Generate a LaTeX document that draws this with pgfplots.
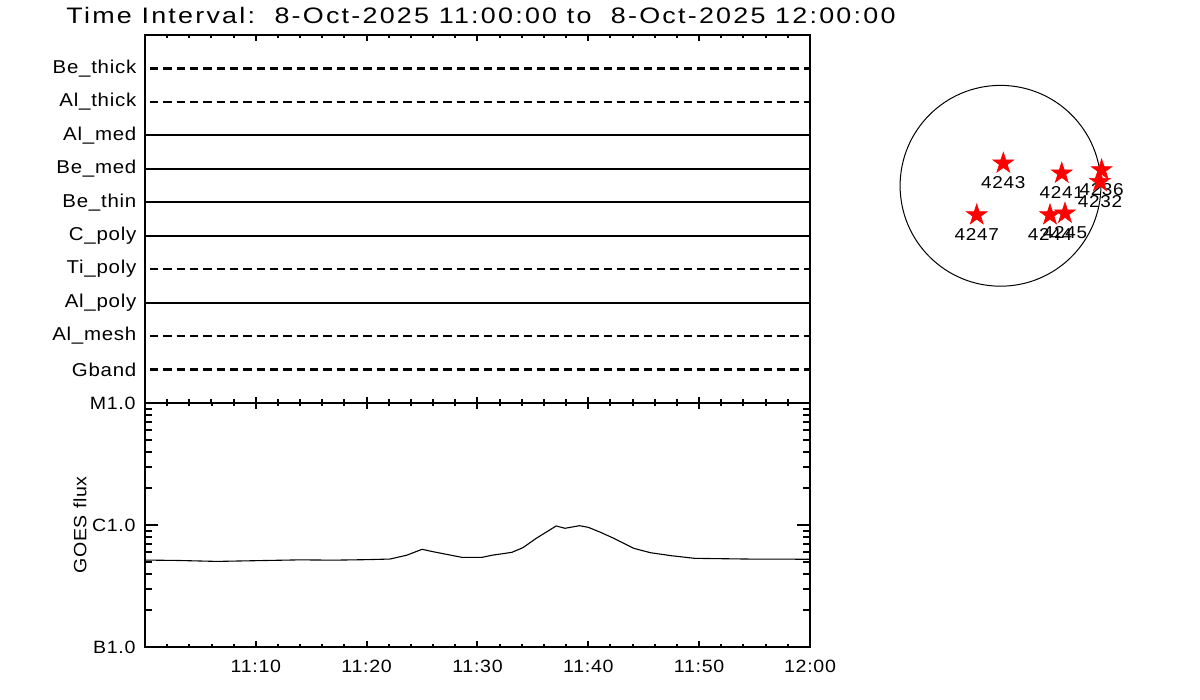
\documentclass[border=0pt]{standalone}
\usepackage{pgfplots}
\pgfplotsset{compat=1.18}
\usepackage{fontspec}
\setmainfont{Liberation Sans}
\newfontfamily\idl[FakeStretch=1.1,LetterSpace=4]{Liberation Sans}
\newfontfamily\idlt[FakeStretch=1.2,LetterSpace=10]{Liberation Sans}

\pgfdeclareplotmark{fstar}{%
  \pgfpathmoveto{\pgfpointpolar{90}{\pgfplotmarksize}}%
  \pgfpathlineto{\pgfpointpolar{126}{0.382\pgfplotmarksize}}%
  \pgfpathlineto{\pgfpointpolar{162}{\pgfplotmarksize}}%
  \pgfpathlineto{\pgfpointpolar{198}{0.382\pgfplotmarksize}}%
  \pgfpathlineto{\pgfpointpolar{234}{\pgfplotmarksize}}%
  \pgfpathlineto{\pgfpointpolar{270}{0.382\pgfplotmarksize}}%
  \pgfpathlineto{\pgfpointpolar{306}{\pgfplotmarksize}}%
  \pgfpathlineto{\pgfpointpolar{342}{0.382\pgfplotmarksize}}%
  \pgfpathlineto{\pgfpointpolar{18}{\pgfplotmarksize}}%
  \pgfpathlineto{\pgfpointpolar{54}{0.382\pgfplotmarksize}}%
  \pgfpathclose
  \pgfusepathqfillstroke
}

\pgfplotstableread{
t flux
0    5.16e-7
3    5.12e-7
6.5  5.03e-7
10   5.10e-7
14   5.18e-7
17   5.15e-7
20   5.20e-7
22.1 5.26e-7
23.6 5.65e-7
25.0 6.32e-7
26.0 6.04e-7
28.6 5.43e-7
30.4 5.43e-7
31.3 5.65e-7
33.1 5.97e-7
34.1 6.52e-7
35.3 7.78e-7
37.1 9.82e-7
37.9 9.40e-7
39.2 9.87e-7
40.0 9.57e-7
41.1 8.71e-7
42.3 7.78e-7
44.1 6.44e-7
45.6 5.93e-7
47.5 5.60e-7
49.6 5.33e-7
54.4 5.26e-7
60   5.24e-7
}\goesdata

\pgfplotstableread{
x y lab
27 216 4243
588 120 4241
971 152 4236
955 39 4232
-228 -280 4247
475 -280 4244
619 -264 4245
}\ardata

\begin{document}
\begin{tikzpicture}
% ---------- top panel: channel lines ----------
\begin{axis}[
  at={(72.5pt,148.5pt)}, anchor=south west, scale only axis,
  width=332.5pt, height=184pt,
  xmin=0, xmax=60, ymin=0, ymax=11,
  xtick={0,10,...,60}, xticklabels={}, minor x tick num=4,
  major tick length=3pt, minor tick length=1.75pt,
  ytick={1,...,10},
  yticklabels={Gband,Al\_mesh,Al\_poly,Ti\_poly,C\_poly,Be\_thin,Be\_med,Al\_med,Al\_thick,Be\_thick},
  tick style={black, line width=1pt},
  ytick style={draw=none},
  axis line style={line width=1pt},
  yticklabel style={font=\idl\fontsize{9.3}{11}\selectfont, xshift=-0.8pt},
]
\addplot[black, line width=1.1pt, dash pattern=on 4.17pt off 2.5pt, dash phase=4.17pt] coordinates {(0,10) (60,10)};
\addplot[black, line width=1.1pt, dash pattern=on 4.17pt off 2.5pt, dash phase=4.17pt] coordinates {(0,9) (60,9)};
\addplot[black, line width=1.1pt] coordinates {(0,8) (60,8)};
\addplot[black, line width=1.1pt] coordinates {(0,7) (60,7)};
\addplot[black, line width=1.1pt] coordinates {(0,6) (60,6)};
\addplot[black, line width=1.1pt] coordinates {(0,5) (60,5)};
\addplot[black, line width=1.1pt, dash pattern=on 4.17pt off 2.5pt, dash phase=4.17pt] coordinates {(0,4) (60,4)};
\addplot[black, line width=1.1pt] coordinates {(0,3) (60,3)};
\addplot[black, line width=1.1pt, dash pattern=on 4.17pt off 2.5pt, dash phase=4.17pt] coordinates {(0,2) (60,2)};
\addplot[black, line width=1.1pt, dash pattern=on 4.17pt off 2.5pt, dash phase=4.17pt] coordinates {(0,1) (60,1)};
\end{axis}

% ---------- bottom panel: GOES curve + x ticks ----------
\begin{axis}[
  at={(72.5pt,26.5pt)}, anchor=south west, scale only axis,
  width=332.5pt, height=122pt,
  xmin=0, xmax=60, ymode=log, ymin=1e-7, ymax=1e-5,
  ytick=\empty,
  xtick={0,10,...,60}, xticklabels={,11:10,11:20,11:30,11:40,11:50,12:00},
  minor x tick num=4,
  major tick length=3pt, minor tick length=1.75pt,
  tick style={black, line width=1pt},
  axis line style={line width=1pt},
  xticklabel style={font=\idl\fontsize{8.9}{10}\selectfont, yshift=-3pt},
]
\addplot[black, line width=0.55pt] table[x=t, y=flux] {\goesdata};
\end{axis}

% ---------- bottom panel: y ticks ----------
\begin{axis}[
  at={(72.5pt,26.5pt)}, anchor=south west, scale only axis,
  width=332.5pt, height=122pt,
  xmin=0, xmax=60, ymode=log, ymin=1e-7, ymax=1e-5,
  xtick=\empty,
  ytick={1e-7,1e-6,1e-5}, yticklabels={B1.0,C1.0,M1.0},
  minor ytick={2e-7,3e-7,4e-7,5e-7,6e-7,7e-7,8e-7,9e-7,2e-6,3e-6,4e-6,5e-6,6e-6,7e-6,8e-6,9e-6},
  major tick length=6.5pt, minor tick length=3.5pt,
  tick style={black, line width=1pt},
  axis line style={line width=1pt},
  yticklabel style={font=\idl\fontsize{8.9}{10}\selectfont, xshift=-1.2pt},
  ylabel={GOES flux},
  ylabel style={at={(axis description cs:-0.0977,0.5)}, anchor=center, font=\idl\fontsize{8.9}{10}\selectfont},
]
\end{axis}

% ---------- solar disk with active regions ----------
\begin{axis}[
  at={(500.25pt,257.1pt)}, anchor=center, scale only axis,
  width=130.2pt, height=130.2pt,
  xmin=-1250, xmax=1250, ymin=-1250, ymax=1250,
  hide axis, clip=false,
  point meta=explicit symbolic,
]
\draw[black, line width=0.5pt] (axis cs:0,0) circle[radius=50.2pt];
\addplot[only marks, mark=fstar, mark size=5.5pt, red, mark options={fill=red, draw=red, line width=0.3pt},
  nodes near coords,
  every node near coord/.append style={anchor=center, yshift=-9.8pt, text=black, inner sep=0pt,
     font=\idl\fontsize{8.6}{10}\selectfont}]
  table[x=x, y=y, meta=lab] {\ardata};
\end{axis}

\node[anchor=west, inner sep=0pt, font=\idlt\fontsize{11.2}{13}\selectfont] at (33pt,342pt)
  {Time Interval:\ \ 8-Oct-2025 11:00:00 to\ \ 8-Oct-2025 12:00:00};

\pgfresetboundingbox
\useasboundingbox (0,0) rectangle (600pt,350pt);
\end{tikzpicture}
\end{document}
